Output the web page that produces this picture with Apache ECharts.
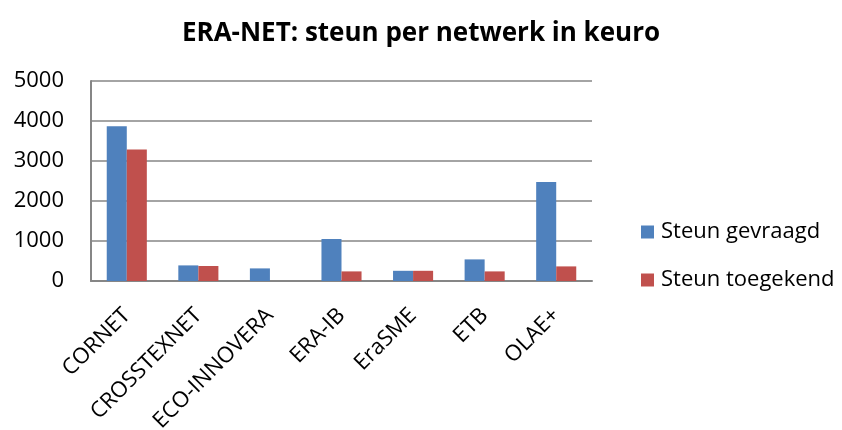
<!DOCTYPE html>
<html>
<head>
<meta charset="utf-8">
<script src="https://cdn.jsdelivr.net/npm/echarts@6/dist/echarts.min.js"></script>
<style>
  html, body { margin: 0; padding: 0; background: #fff; }
  #chart { width: 842px; height: 430px; }
</style>
</head>
<body>
<div id="chart"></div>
<script>
// Data
const networks = ["CORNET", "CROSSTEXNET", "ECO-INNOVERA", "ERA-IB", "EraSME", "ETB", "OLAE+"];
const steunGevraagd = [3870, 390, 315, 1050, 255, 540, 2475];
const steunToegekend = [3285, 375, 0, 240, 255, 240, 365];

const font = "'Open Sans', 'Noto Sans', sans-serif";

const chart = echarts.init(document.getElementById("chart"));

chart.setOption({
  animation: false,
  title: {
    text: "ERA-NET: steun per netwerk in keuro",
    left: "center",
    top: 16,
    textStyle: { fontFamily: font, fontSize: 26, fontWeight: "bold", color: "#000" }
  },
  legend: {
    orient: "vertical",
    left: 636,
    top: 216,
    itemWidth: 13,
    itemHeight: 13,
    itemGap: 26,
    icon: "rect",
    textStyle: { fontFamily: font, fontSize: 22, color: "#000", padding: [0, 0, 0, 2] },
    data: ["Steun gevraagd", "Steun toegekend"]
  },
  grid: {
    left: 91, right: 250, top: 81, bottom: 149,
    containLabel: false,
    outerBoundsMode: "none"
  },
  xAxis: {
    type: "category",
    data: networks,
    axisLine: { lineStyle: { color: "#868686", width: 2 } },
    axisTick: { show: false },
    axisLabel: {
      rotate: 45,
      interval: 0,
      margin: 31,
      fontFamily: font,
      fontSize: 22,
      color: "#000"
    }
  },
  yAxis: {
    type: "value",
    min: 0,
    max: 5000,
    interval: 1000,
    axisLine: { show: true, lineStyle: { color: "#868686", width: 2 } },
    axisTick: { show: false },
    splitLine: { lineStyle: { color: "#868686", width: 1.5 } },
    axisLabel: {
      fontFamily: font,
      fontSize: 22,
      color: "#000",
      margin: 27,
      formatter: v => String(v)
    }
  },
  series: [
    {
      name: "Steun gevraagd",
      type: "bar",
      data: steunGevraagd,
      barGap: "0%",
      barCategoryGap: "44%",
      itemStyle: { color: "#4F81BD" }
    },
    {
      name: "Steun toegekend",
      type: "bar",
      data: steunToegekend,
      itemStyle: { color: "#C0504D" }
    }
  ]
});
</script>
</body>
</html>
